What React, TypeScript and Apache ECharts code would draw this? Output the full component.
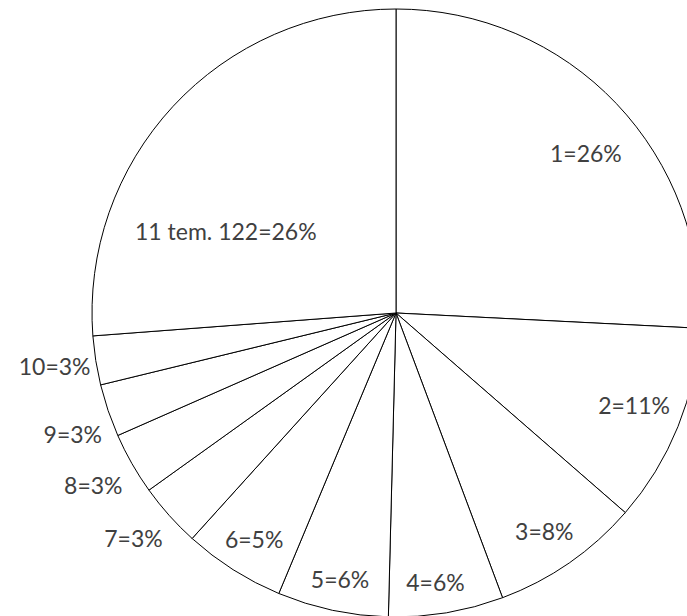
import React, { useEffect, useRef } from "react";
import * as echarts from "echarts";

// Data (shares in percent)
const categories = ["1", "2", "3", "4", "5", "6", "7", "8", "9", "10", "11 tem. 122"];
const shares = [25.8, 10.6, 7.9, 6.1, 5.9, 5.4, 3.4, 3.3, 2.8, 2.6, 26.2];

// Label placement styling: radius fraction, angular shift (deg) from slice middle, outside flag
const labelRadius = [0.816, 0.839, 0.867, 0.895, 0.895, 0.878, 1.066, 1.063, 1.046, 1.02, 0.622];
const labelAngleShift = [3.5, -0.9, 0.5, 1.2, -0.2, -0.3, -2.2, -2.5, -3.7, -0.9, -17];
const labelOutside = [false, false, false, false, false, false, true, true, true, true, false];

const CX = 396;
const CY = 313;
const R = 304;

export default function App() {
  const ref = useRef<HTMLDivElement>(null);
  useEffect(() => {
    const chart = echarts.init(ref.current!, null, { renderer: "svg" });
    const total = shares.reduce((a, b) => a + b, 0);
    const pct = shares.map((v) => Math.round((v / total) * 100));
    const mids: number[] = [];
    let cum = 0;
    shares.forEach((v) => {
      mids.push(((cum + v / 2) / total) * 360);
      cum += v;
    });
    chart.setOption({
      animation: false,
      backgroundColor: "#ffffff",
      series: [
        {
          type: "pie",
          center: [CX, CY],
          radius: [0, R],
          startAngle: 90,
          clockwise: true,
          avoidLabelOverlap: false,
          silent: true,
          itemStyle: { color: "#ffffff", borderColor: "#000000", borderWidth: 1 },
          label: {
            show: true,
            position: "inside",
            color: "#404040",
            fontFamily: "Lato",
            fontSize: 23,
            formatter: (p: any) => `${p.name}=${pct[p.dataIndex]}%`,
          },
          labelLine: { show: false },
          emphasis: { disabled: true },
          labelLayout: (p: any) => {
            const i = p.dataIndex;
            const a = ((mids[i] + labelAngleShift[i]) * Math.PI) / 180;
            const d = R * labelRadius[i];
            return {
              x: CX + d * Math.sin(a),
              y: CY - d * Math.cos(a),
              align: labelOutside[i] ? "right" : "center",
              verticalAlign: "middle",
            };
          },
          data: categories.map((c, i) => ({ name: c, value: shares[i] })),
        },
      ],
    });
    return () => chart.dispose();
  }, []);
  return (
    <div
      ref={ref}
      style={{ position: "fixed", left: 0, top: 0, width: 687, height: 616 }}
    />
  );
}
